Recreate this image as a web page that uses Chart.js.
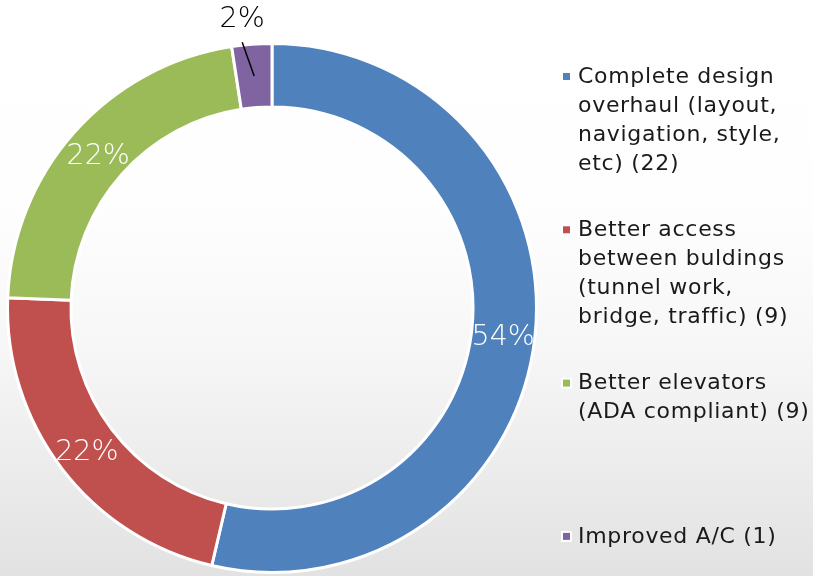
<!DOCTYPE html>
<html>
<head>
<meta charset="utf-8">
<script src="https://cdn.jsdelivr.net/npm/chart.js@4"></script>
<style>
  html, body { margin: 0; padding: 0; }
  body { width: 813px; height: 576px; overflow: hidden;
         background: linear-gradient(to bottom, #ffffff 0%, #fefefe 35%, #f7f7f7 60%, #e2e2e2 100%); }
  #wrap { position: absolute; left: 0; top: 0; width: 813px; height: 576px; }
</style>
</head>
<body>
<div id="wrap"><canvas id="c" width="813" height="576"></canvas></div>
<script>
const categories = [
  ["Complete design", "overhaul (layout,", "navigation, style,", "etc) (22)"],
  ["Better access", "between buldings", "(tunnel work,", "bridge, traffic) (9)"],
  ["Better elevators", "(ADA compliant) (9)"],
  ["Improved A/C (1)"]
];
const counts = [22, 9, 9, 1];
const percentLabels = ["54%", "22%", "22%", "2%"];
const colors = ["#4F81BD", "#C0504D", "#9BBB59", "#8064A2"];

const PCT_FONT = "200 28.5px 'DejaVu Sans'";
const LEGEND_FONT = "22px 'DejaVu Sans'";

const labelPlugin = {
  id: 'sliceLabels',
  afterDatasetsDraw(chart) {
    const ctx = chart.ctx;
    const meta = chart.getDatasetMeta(0);
    ctx.save();
    if ('letterSpacing' in ctx) ctx.letterSpacing = '0px';
    ctx.font = PCT_FONT + ", sans-serif";
    ctx.textAlign = 'center';
    ctx.textBaseline = 'middle';
    meta.data.forEach((arc, i) => {
      const p = arc.getCenterPoint();
      if (i === 3) {
        const mid = (arc.startAngle + arc.endAngle) / 2;
        const a2 = mid - 0.035;
        const r2 = arc.outerRadius + 3;
        const ex = arc.x + r2 * Math.cos(a2), ey = arc.y + r2 * Math.sin(a2);
        ctx.strokeStyle = '#000';
        ctx.lineWidth = 1.5;
        ctx.beginPath();
        ctx.moveTo(p.x, p.y);
        ctx.lineTo(ex, ey);
        ctx.stroke();
        ctx.fillStyle = '#000';
        ctx.fillText(percentLabels[i], ex, ey - 23);
      } else {
        ctx.fillStyle = '#fff';
        ctx.fillText(percentLabels[i], p.x, p.y + 3);
      }
    });
    ctx.restore();
  }
};

const legendPlugin = {
  id: 'sideLegend',
  afterDraw(chart) {
    const ctx = chart.ctx;
    ctx.save();
    ctx.font = LEGEND_FONT + ", sans-serif";
    if ('letterSpacing' in ctx) ctx.letterSpacing = '0.7px';
    ctx.textBaseline = 'middle';
    ctx.textAlign = 'left';
    const x0 = 563, y0 = 77, step = 153.3, lh = 29;
    categories.forEach((lines, i) => {
      const y = y0 + i * step;
      ctx.fillStyle = '#fff';
      ctx.fillRect(x0 - 2, y - 6, 11, 11);
      ctx.fillStyle = colors[i];
      ctx.fillRect(x0, y - 4, 7, 7);
      ctx.fillStyle = '#1a1a1a';
      lines.forEach((t, j) => ctx.fillText(t, 578, y + j * lh));
    });
    if ('letterSpacing' in ctx) ctx.letterSpacing = '0px';
    ctx.restore();
  }
};

function draw() {
  new Chart(document.getElementById('c'), {
    type: 'doughnut',
    data: {
      labels: categories.map(l => l.join(' ')),
      datasets: [{
        data: counts,
        backgroundColor: colors,
        borderColor: '#ffffff',
        borderWidth: 3
      }]
    },
    options: {
      responsive: false,
      animation: false,
      cutout: '76%',
      rotation: 0,
      layout: { padding: { left: 6, top: 42, right: 275, bottom: 2 } },
      plugins: { legend: { display: false }, tooltip: { enabled: false } }
    },
    plugins: [labelPlugin, legendPlugin]
  });
}

Promise.all([
  document.fonts.load(PCT_FONT),
  document.fonts.load(LEGEND_FONT)
]).then(draw, draw);
</script>
</body>
</html>
